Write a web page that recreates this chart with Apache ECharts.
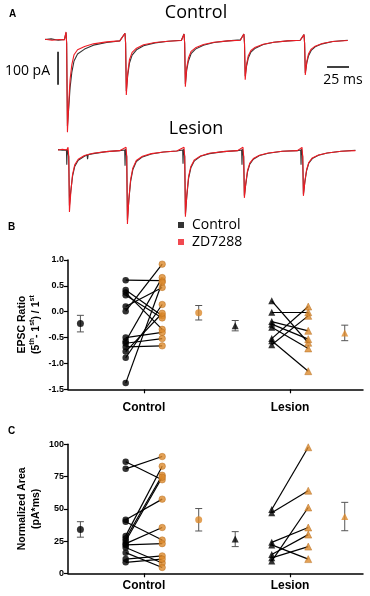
<!DOCTYPE html>
<html>
<head>
<meta charset="utf-8">
<script src="https://cdn.jsdelivr.net/npm/echarts@6/dist/echarts.min.js"></script>
<style>
  html, body { margin: 0; padding: 0; background: #fff; }
  #main { width: 370px; height: 596px; }
</style>
</head>
<body>
<div id="main"></div>
<script>
// ---- panel A : example traces, [time ms, current pA] ----
const ctrlRed = [
  [0, 2], [8, -1], [16, 1], [22, 0],
  [23.9, 24], [24.6, -10], [25.5, -280], [27, -190], [28.5, -120], [30.5, -75], [33, -45], [37, -30], [45, -20], [55, -12], [70, -6], [85, -3],
  [90.9, 20], [91.6, -10], [92.4, -167], [94, -100], [96, -60], [99, -38], [104, -25], [112, -15], [125, -8], [140, -4], [155, -2],
  [158, 18], [158.7, -10], [159.5, -142], [161, -85], [163, -55], [166, -35], [171, -24], [180, -14], [192, -7], [208, -3], [222, -1],
  [226, 18], [226.7, -10], [227.5, -121], [229, -75], [231, -48], [234, -32], [239, -22], [248, -13], [260, -7], [276, -3], [290, -1],
  [294.3, 16], [295, -10], [295.8, -106], [297.5, -65], [299.5, -42], [302.5, -28], [307, -19], [315, -11], [327, -5], [344, -2]
];
const ctrlBlack = [
  [0, 1], [7, 3], [15, -1], [22, 1],
  [23.9, 22], [24.6, -10], [25.5, -262], [27, -205], [28.5, -145], [30.5, -98], [33, -64], [37, -43], [45, -28], [55, -16], [70, -8], [85, -3],
  [90.9, 20], [91.6, -10], [92.4, -155], [94, -108], [96, -70], [99, -46], [104, -30], [112, -18], [125, -9], [140, -4], [155, -1],
  [158, 18], [158.7, -10], [159.5, -134], [161, -92], [163, -64], [166, -42], [171, -28], [180, -16], [192, -8], [208, -3], [222, 0],
  [226, 18], [226.7, -10], [227.5, -110], [229, -80], [231, -55], [234, -37], [239, -25], [248, -14], [260, -7], [276, -3], [290, -1],
  [294.3, 16], [295, -10], [295.8, -100], [297.5, -70], [299.5, -48], [302.5, -32], [307, -21], [315, -12], [327, -5], [344, -1]
];
const lesRed = [
  [0, 0], [5, 2], [10, 0],
  [11.4, 8], [12.2, -20], [13, -188], [14.5, -130], [16.5, -75], [19, -45], [23, -28], [30, -17], [40, -10], [55, -5], [70, -2],
  [77.3, 8], [78.1, -20], [78.9, -224], [80.5, -150], [82.5, -90], [85, -55], [89, -32], [96, -19], [106, -11], [120, -6], [135, -3],
  [143.2, 8], [144, -20], [144.8, -202], [146.4, -135], [148.4, -80], [151, -50], [155, -30], [162, -18], [172, -10], [188, -5], [204, -2],
  [210.2, 8], [211, -20], [211.8, -145], [213.4, -100], [215.4, -62], [218, -40], [222, -26], [229, -16], [239, -9], [255, -4], [272, -2],
  [277.3, 8], [278.1, -20], [278.9, -139], [280.5, -95], [282.5, -60], [285, -38], [289, -24], [296, -15], [306, -9], [322, -4], [338, -2]
];
const lesBlack = [
  [0, 1], [5, -1], [9.6, 0],
  [10.0, -45], [10.5, 3], [11.4, 6], [12.2, -20], [13, -168], [14.5, -125], [16.5, -80], [19, -50], [23, -31], [30, -19], [33, -15], [33.6, -28], [34.3, -14], [40, -11], [55, -5], [70, -2],
  [75.8, 0], [76.2, -48], [76.7, 3], [77.3, 6], [78.1, -20], [78.9, -212], [80.5, -152], [82.5, -96], [85, -60], [89, -35], [96, -21], [106, -12], [120, -6], [135, -3],
  [141.7, 0], [142.1, -42], [142.6, 3], [143.2, 6], [144, -20], [144.8, -195], [146.4, -140], [148.4, -86], [151, -54], [155, -33], [162, -19], [172, -11], [188, -5], [204, -2],
  [208.7, 0], [209.1, -45], [209.6, 3], [210.2, 6], [211, -20], [211.8, -139], [213.4, -104], [215.4, -66], [218, -43], [222, -28], [229, -17], [239, -10], [255, -4], [272, -2],
  [275.8, 0], [276.2, -45], [276.7, 3], [277.3, 6], [278.1, -20], [278.9, -134], [280.5, -98], [282.5, -63], [285, -40], [289, -26], [296, -16], [306, -9], [322, -4], [338, -1]
];
const scaleBarTime = [[320.5, -82], [345.5, -82]];   // 25 ms
const scaleBarAmp = [[14.8, -36], [14.8, -136]];     // 100 pA

// ---- panel B : EPSC ratio, paired by index ----
const ctrlRatioPre  = [0.61, 0.42, 0.37, 0.32, 0.10, 0.01, -0.50, -0.57, -0.61, -0.68, -0.77, -0.89, -1.38];
const ctrlRatioPost = [0.60, -0.08, -0.34, -0.12, 0.47, 0.92, -0.40, 0.66, -0.52, -0.66, -0.03, 0.14, 0.57];
const lesRatioPre   = [0.21, -0.01, -0.19, -0.24, -0.30, -0.52, -0.56, -0.64];
const lesRatioPost  = [-0.60, -0.01, -0.37, -0.53, -0.71, 0.10, -1.15, -0.08];
const ratioMean = [-0.23, -0.02, -0.27, -0.41];
const ratioSem  = [0.16, 0.14, 0.10, 0.15];
const ratioTicks = [-1.5, -1.0, -0.5, 0.0, 0.5, 1.0];

// ---- panel C : normalized area ----
const ctrlAreaPre  = [86.5, 81, 41.5, 40, 29, 27, 25, 23, 22, 20, 16, 11, 8.5];
const ctrlAreaPost = [72.5, 90.5, 57.5, 25.8, 83, 76, 74.5, 35.5, 23, 8, 4.5, 13.5, 11];
const lesAreaPre   = [49.5, 47, 9.5, 24, 22, 14.5, 12];
const lesAreaPost  = [97.7, 64, 51, 35.5, 11, 30, 20.7];
const areaMean = [34, 41.5, 26.5, 44];
const areaSem  = [6, 8.7, 5.8, 11];
const areaTicks = [0, 25, 50, 75, 100];

const groups = ['Control', 'Lesion'];

// x slots on the group axis (groups sit at 1 and 3)
const X_PRE = [0.75, 2.75], X_POST = [1.25, 3.25];
const X_MEAN = [0.13, 1.75, 2.25, 3.75];

const ORANGE = '#dc8a2c', ORANGE_EDGE = '#b66c1c', RED = '#ee1c24';
const AX_FONT = 'Liberation Sans, Arial, sans-serif';
const TXT_FONT = 'Open Sans, sans-serif';

function errBar(params, api) {
  const x = api.value(0);
  const lo = api.coord([x, api.value(1)]);
  const hi = api.coord([x, api.value(2)]);
  const w = 3.5;
  const st = { stroke: '#555', lineWidth: 1 };
  return {
    type: 'group',
    children: [
      { type: 'line', shape: { x1: lo[0], y1: lo[1], x2: hi[0], y2: hi[1] }, style: st },
      { type: 'line', shape: { x1: lo[0] - w, y1: lo[1], x2: lo[0] + w, y2: lo[1] }, style: st },
      { type: 'line', shape: { x1: hi[0] - w, y1: hi[1], x2: hi[0] + w, y2: hi[1] }, style: st }
    ]
  };
}

function panelSeries(ax, cPre, cPost, lPre, lPost, mean, sem) {
  const base = { xAxisIndex: ax, yAxisIndex: ax };
  const pairs = (pre, post, g) => pre.map((v, i) => ({ coords: [[X_PRE[g], v], [X_POST[g], post[i]]] }));
  const meanColors = ['#000', ORANGE, '#000', ORANGE];
  const meanSymbols = ['circle', 'circle', 'triangle', 'triangle'];
  return [
    Object.assign({
      type: 'lines', coordinateSystem: 'cartesian2d', z: 1,
      data: pairs(cPre, cPost, 0).concat(pairs(lPre, lPost, 1)),
      lineStyle: { color: '#000', width: 1.2, opacity: 1 }
    }, base),
    Object.assign({
      type: 'scatter', name: 'Control', symbol: 'circle', symbolSize: 6.5, z: 3,
      itemStyle: { color: '#000' },
      data: cPre.map(v => [X_PRE[0], v])
    }, base),
    Object.assign({
      type: 'scatter', name: 'ZD7288', symbol: 'circle', symbolSize: 6.5, z: 3,
      itemStyle: { color: ORANGE, borderColor: ORANGE_EDGE, borderWidth: 0.6 },
      data: cPost.map(v => [X_POST[0], v])
    }, base),
    Object.assign({
      type: 'scatter', name: 'Lesion', symbol: 'triangle', symbolSize: 7, z: 3,
      itemStyle: { color: '#000' },
      data: lPre.map(v => [X_PRE[1], v])
    }, base),
    Object.assign({
      type: 'scatter', name: 'Lesion ZD7288', symbol: 'triangle', symbolSize: 7, z: 3,
      itemStyle: { color: ORANGE, borderColor: ORANGE_EDGE, borderWidth: 0.6 },
      data: lPost.map(v => [X_POST[1], v])
    }, base),
    Object.assign({
      type: 'custom', z: 2, renderItem: errBar,
      encode: { x: 0, y: [1, 2] },
      data: mean.map((m, i) => [X_MEAN[i], m - sem[i], m + sem[i]])
    }, base),
    Object.assign({
      type: 'scatter', name: 'means', symbolSize: 7, z: 4,
      data: mean.map((m, i) => ({
        value: [X_MEAN[i], m],
        symbol: meanSymbols[i],
        itemStyle: { color: meanColors[i] }
      }))
    }, base)
  ];
}

function groupAxis(grid, margin) {
  return {
    type: 'value', gridIndex: grid, min: -0.04, max: 4,
    splitLine: { show: false },
    axisLine: { show: true, onZero: false, lineStyle: { color: '#000', width: 1.5 } },
    axisTick: { show: true, customValues: [1, 3], length: 4, lineStyle: { color: '#000', width: 1.2 } },
    axisLabel: {
      customValues: [1, 3], margin: margin,
      formatter: v => groups[Math.round((v - 1) / 2)],
      color: '#000', fontFamily: AX_FONT, fontWeight: 'bold', fontSize: 12
    }
  };
}

function valueAxis(grid, ticks, name, gap, fmt) {
  return {
    type: 'value', gridIndex: grid,
    min: ticks[0], max: ticks[ticks.length - 1], interval: ticks[1] - ticks[0],
    splitLine: { show: false },
    axisLine: { show: true, onZero: false, lineStyle: { color: '#000', width: 1.5 } },
    axisTick: { show: true, length: 4, lineStyle: { color: '#000', width: 1.2 } },
    axisLabel: { formatter: fmt, margin: 4, color: '#000', fontFamily: AX_FONT, fontWeight: 'bold', fontSize: 9 },
    name: name, nameLocation: 'middle', nameGap: gap, nameRotate: 90, nameMoveOverlap: false,
    nameTextStyle: {
      color: '#000',
      rich: {
        b: { fontFamily: AX_FONT, fontWeight: 'bold', fontSize: 10.5, lineHeight: 14, color: '#000' },
        s: { fontFamily: AX_FONT, fontWeight: 'bold', fontSize: 7, lineHeight: 14, verticalAlign: 'top', color: '#000' }
      }
    }
  };
}

const traceLine = (data, color, ax, w) => ({
  type: 'line', xAxisIndex: ax, yAxisIndex: ax, data: data,
  showSymbol: false, symbol: 'none', silent: true,
  lineStyle: { color: color, width: w || 1.1 }
});

const chart = echarts.init(document.getElementById('main'), null, { renderer: 'canvas' });

chart.setOption({
  animation: false,
  backgroundColor: '#fff',
  grid: [
    { left: 45, top: 28, width: 308, height: 109.9 },
    { left: 58, top: 138.1, width: 298.3, height: 99 },
    { left: 68, top: 260, width: 295, height: 129.3 },
    { left: 68, top: 444.3, width: 295, height: 129 }
  ],
  xAxis: [
    { type: 'value', gridIndex: 0, min: 0, max: 350, show: false },
    { type: 'value', gridIndex: 1, min: 0, max: 339, show: false },
    groupAxis(2, 12),
    groupAxis(3, 6)
  ],
  yAxis: [
    { type: 'value', gridIndex: 0, min: -297, max: 36, show: false },
    { type: 'value', gridIndex: 1, min: -264, max: 36, show: false },
    valueAxis(2, ratioTicks,
      '{b|EPSC Ratio}\n{b|(5}{s|th}{b|- 1}{s|st}{b|) / 1}{s|st}', 25, v => v.toFixed(1)),
    valueAxis(3, areaTicks, '{b|Normalized Area}\n{b|(pA*ms)}', 25, v => String(v))
  ],
  legend: {
    orient: 'vertical', left: 178, top: 216.5, itemGap: 0, padding: 0,
    itemWidth: 6, itemHeight: 6, icon: 'rect', selectedMode: false,
    textStyle: { fontFamily: TXT_FONT, fontSize: 14, color: '#000', lineHeight: 17, padding: [0, 0, 0, 3] },
    data: [
      { name: 'Control', itemStyle: { color: '#000', borderWidth: 0 } },
      { name: 'ZD7288', itemStyle: { color: RED, borderColor: RED, borderWidth: 0 } }
    ]
  },
  graphic: [
    { type: 'text', left: 9, top: 9, style: { text: 'A', font: 'bold 10px ' + AX_FONT, fill: '#000' } },
    { type: 'text', left: 8, top: 222, style: { text: 'B', font: 'bold 10px ' + AX_FONT, fill: '#000' } },
    { type: 'text', left: 8, top: 426, style: { text: 'C', font: 'bold 10px ' + AX_FONT, fill: '#000' } },
    { type: 'text', x: 196, y: 13, style: { text: 'Control', font: '18px ' + TXT_FONT, fill: '#000', align: 'center', verticalAlign: 'middle' } },
    { type: 'text', x: 196, y: 129, style: { text: 'Lesion', font: '18px ' + TXT_FONT, fill: '#000', align: 'center', verticalAlign: 'middle' } },
    { type: 'text', x: 50, y: 71, style: { text: '100 pA', font: '14px ' + TXT_FONT, fill: '#000', align: 'right', verticalAlign: 'middle' } },
    { type: 'text', x: 343, y: 80, style: { text: '25 ms', font: '14px ' + TXT_FONT, fill: '#000', align: 'center', verticalAlign: 'middle' } }
  ],
  series: [
    traceLine(ctrlBlack, '#333', 0),
    traceLine(ctrlRed, RED, 0),
    traceLine(lesBlack, '#333', 1),
    traceLine(lesRed, RED, 1),
    traceLine(scaleBarTime, '#000', 0, 1.5),
    traceLine(scaleBarAmp, '#000', 0, 1.5)
  ].concat(
    panelSeries(2, ctrlRatioPre, ctrlRatioPost, lesRatioPre, lesRatioPost, ratioMean, ratioSem),
    panelSeries(3, ctrlAreaPre, ctrlAreaPost, lesAreaPre, lesAreaPost, areaMean, areaSem)
  )
});
</script>
</body>
</html>
